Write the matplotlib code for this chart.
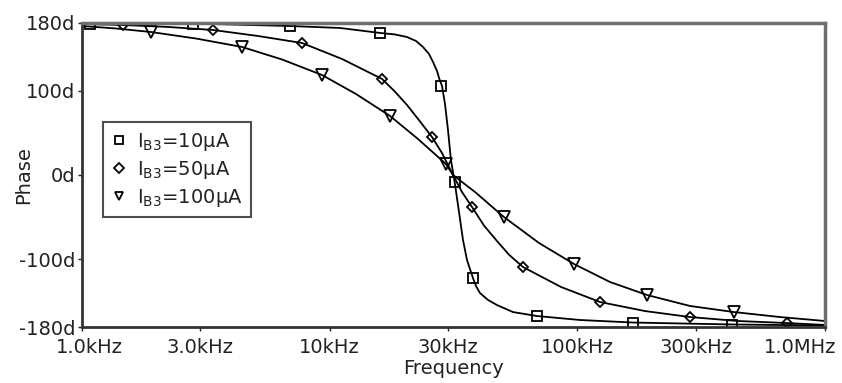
import matplotlib
matplotlib.use('Agg')
import matplotlib.pyplot as plt
import matplotlib.transforms as mtransforms
from matplotlib.lines import Line2D

plt.rcParams['font.family'] = ['DejaVu Sans']
plt.rcParams['mathtext.fontset'] = 'dejavusans'

# values (frequency in Hz, phase in degrees)
f10 = [1000, 1077, 2807, 6914, 11005, 15970, 18350, 20520, 22300, 23800, 25170, 26130,
       27120, 27630, 28410, 29210, 30030, 30870, 32040, 33270, 34530, 35840, 37880,
       38960, 40440, 43580, 47360, 54950, 68690, 102400, 167700, 421000, 1000000]
p10 = [179.6, 179.6, 179.4, 176.4, 174.1, 168.2, 166.4, 163.4, 158.7, 151.6, 143.3, 133.8,
       123.2, 114.9, 105.4, 84.1, 53.3, 17.8, -10.7, -43.8, -77.0, -100.7, -122.0,
       -131.5, -139.8, -148.0, -154.0, -162.3, -167.0, -171.7, -174.7, -177.0, -178.2]
m10_f = [1077, 2807, 6914, 15970, 28140, 32040, 37880, 68690, 167700, 421000]
m10_p = [179.3, 179.0, 176.4, 168.2, 105.4, -8.3, -122.0, -167.0, -175.3, -177.6]

f50 = [1000, 1464, 2224, 3380, 5134, 7732, 11210, 16270, 18300, 20520, 23000, 25880, 28410,
       31460, 34200, 37540, 42000, 47360, 53000, 60330, 85870, 123400, 187400, 284900,
       445000, 702000, 1000000]
p50 = [178.8, 177.6, 175.3, 171.7, 164.6, 156.3, 137.4, 113.7, 99.0, 82.9, 64.5, 45.0, 26.0,
       0.0, -20.1, -37.9, -60.0, -78.2, -94.5, -109.0, -132.6, -150.4, -161.1, -168.2,
       -172.9, -175.3, -177.6]
m50_f = [1464, 3380, 7732, 16270, 25880, 37540, 60330, 123400, 284900, 702000]
m50_p = [177.6, 171.7, 156.3, 113.7, 45.0, -37.9, -109.0, -150.4, -168.2, -175.3]

f100 = [1000, 1372, 1899, 2885, 4424, 6418, 9311, 12770, 17520, 22730, 29480, 31460,
        38600, 50540, 69980, 96890, 135400, 191000, 284900, 428800, 657600, 1000000]
p100 = [176.4, 173.5, 169.3, 161.6, 151.6, 136.8, 118.4, 95.9, 69.9, 42.6, 13.0, 0.0,
        -20.1, -49.8, -80.5, -105.4, -126.7, -142.1, -155.1, -162.3, -168.2, -172.9]
m100_f = [1899, 4424, 9311, 17520, 29480, 50540, 96890, 191000, 428800]
m100_p = [169.3, 151.6, 118.4, 69.9, 13.0, -49.8, -105.4, -142.1, -162.3]

labels = [r'I$_{\mathrm{B3}}$=10µA', r'I$_{\mathrm{B3}}$=50µA', r'I$_{\mathrm{B3}}$=100µA']

xticks = [1e3, 3e3, 1e4, 3e4, 1e5, 3e5, 1e6]
xticklabels = ['1.0kHz', '3.0kHz', '10kHz', '30kHz', '100kHz', '300kHz', '1.0MHz']
yticks = [-180, -100, 0, 100, 180]
yticklabels = ['-180d', '-100d', '0d', '100d', '180d']

fig = plt.figure(figsize=(8.42, 3.83), dpi=100)
ax = fig.add_axes([0.0974, 0.1462, 0.8825, 0.7938])

lw = 1.3
ax.plot(f10, p10, color='black', lw=lw)
ax.plot(f50, p50, color='black', lw=lw)
ax.plot(f100, p100, color='black', lw=lw)
ax.plot(m10_f, m10_p, ls='none', marker='s', ms=7, mfc='none', mec='black', mew=1.3)
ax.plot(m50_f, m50_p, ls='none', marker='D', ms=5.5, mfc='none', mec='black', mew=1.3)
ax.plot(m100_f, m100_p, ls='none', marker='v', ms=8, mfc='none', mec='black', mew=1.3)

ax.set_xscale('log')
ax.set_xlim(1e3, 1e6)
ax.set_ylim(-180, 180)
ax.set_xticks(xticks)
ax.set_xticklabels(xticklabels)
ax.minorticks_off()
ax.set_yticks(yticks)
ax.set_yticklabels(yticklabels)
ax.tick_params(direction='out', length=3, width=1, labelsize=14, colors='#222222')
ax.tick_params(axis='x', pad=5)
ax.tick_params(axis='y', pad=2)

# end labels pulled inward like the original
tl = ax.get_xticklabels()
tl[0].set_transform(tl[0].get_transform() + mtransforms.ScaledTranslation(0.07, 0, fig.dpi_scale_trans))
tl[-1].set_transform(tl[-1].get_transform() + mtransforms.ScaledTranslation(-0.25, 0, fig.dpi_scale_trans))

for s in ['left', 'bottom']:
    ax.spines[s].set_color('#333333')
    ax.spines[s].set_linewidth(2)
for s in ['top', 'right']:
    ax.spines[s].set_color('#6e6e6e')
    ax.spines[s].set_linewidth(2.5)

ax.set_xlabel('Frequency', fontsize=14, color='#222222')
ax.set_ylabel('Phase', fontsize=14, color='#222222')
ax.xaxis.set_label_coords(0.5, -0.105)
ax.yaxis.set_label_coords(-0.066, 0.5)

handles = [Line2D([], [], ls='none', marker='s', ms=6, mfc='none', mec='black', mew=1.3),
           Line2D([], [], ls='none', marker='D', ms=5, mfc='none', mec='black', mew=1.3),
           Line2D([], [], ls='none', marker='v', ms=6, mfc='none', mec='black', mew=1.3)]
leg = ax.legend(handles, labels, loc='upper left', bbox_to_anchor=(0.028, 0.674),
                fontsize=14, frameon=True, fancybox=False, handlelength=0.8,
                handletextpad=0.5, borderpad=0.45, labelspacing=0.3, borderaxespad=0)
leg.get_frame().set_edgecolor('#222222')
leg.get_frame().set_linewidth(1.5)
for t in leg.get_texts():
    t.set_color('#222222')

fig.savefig('out.png', dpi=100)
